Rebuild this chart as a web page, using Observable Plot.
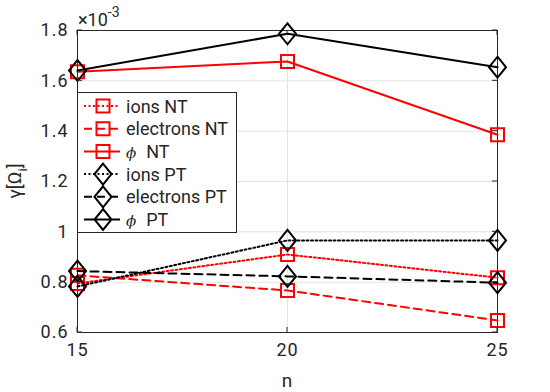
<!DOCTYPE html>
<html><head><meta charset="utf-8">
<script src="https://cdn.jsdelivr.net/npm/d3@7"></script>
<script src="https://cdn.jsdelivr.net/npm/@observablehq/plot@0.6"></script>
<style>body{margin:0;background:#fff} svg{font-family:Roboto,sans-serif}</style>
</head><body><div id="chart"></div>
<script>
// Data (values in units of 1e-3)
const n = [15, 20, 25];
const ionsNT = [0.795, 0.910, 0.818];
const electronsNT = [0.827, 0.767, 0.648];
const phiNT = [1.636, 1.677, 1.386];
const ionsPT = [0.783, 0.966, 0.966];
const electronsPT = [0.844, 0.823, 0.798];
const phiPT = [1.641, 1.787, 1.654];
const seriesNames = ["ions NT", "electrons NT", "NT", "ions PT", "electrons PT", "PT"];
const xTicks = [15, 20, 25];
const yTicks = [0.6, 0.8, 1, 1.2, 1.4, 1.6, 1.8];

const squareSym = {draw(ctx) { const s = 6.5; ctx.rect(-s, -s, 2 * s, 2 * s); }};
const diamondSym = {draw(ctx) { const w = 8.5, h = 10.5; ctx.moveTo(0, -h); ctx.lineTo(w, 0); ctx.lineTo(0, h); ctx.lineTo(-w, 0); ctx.closePath(); }};

const seriesValues = [ionsNT, electronsNT, phiNT, ionsPT, electronsPT, phiPT];
const styles = [
  {color: "#ff0000", dash: "2,2.5", sym: squareSym, phi: false},
  {color: "#ff0000", dash: "8,5", sym: squareSym, phi: false},
  {color: "#ff0000", dash: null, sym: squareSym, phi: true},
  {color: "#000000", dash: "2,2.5", sym: diamondSym, phi: false},
  {color: "#000000", dash: "8,5", sym: diamondSym, phi: false},
  {color: "#000000", dash: null, sym: diamondSym, phi: true}
];
const series = seriesValues.map((vals, i) => ({
  name: seriesNames[i], ...styles[i],
  data: n.map((x, j) => ({n: x, y: vals[j]}))
}));

const marks = [
  Plot.gridY(yTicks, {stroke: "#e3e3e3", strokeOpacity: 1, strokeWidth: 1}),
  Plot.gridX(xTicks, {stroke: "#e3e3e3", strokeOpacity: 1, strokeWidth: 1}),
  Plot.axisX(xTicks, {tickSize: 0, tickPadding: 11, fill: "#262626", label: null, tickFormat: d => String(d)}),
  Plot.axisY(yTicks, {tickSize: 0, tickPadding: 9, fill: "#262626", label: null, tickFormat: d => String(+d.toFixed(1))}),
  Plot.frame({stroke: "#262626", strokeWidth: 1})
];
for (const s of series) {
  marks.push(Plot.line(s.data, {x: "n", y: "y", stroke: s.color, strokeWidth: 2, strokeDasharray: s.dash || undefined}));
  marks.push(Plot.dot(s.data, {x: "n", y: "y", stroke: s.color, strokeWidth: 2, fill: "none", symbol: s.sym}));
}

const plot = Plot.plot({
  width: 550, height: 392,
  marginLeft: 77, marginRight: 53, marginTop: 30, marginBottom: 60,
  x: {domain: [15, 25]},
  y: {domain: [0.6, 1.8]},
  style: {fontFamily: "Roboto, sans-serif", background: "#fff"},
  marks
});
document.getElementById("chart").appendChild(plot);

const svg = d3.select(plot);
svg.selectAll('g[aria-label$="tick label"]').style("font-size", "18px").style("letter-spacing", "1px");
const xs = plot.scale("x"), ys = plot.scale("y");
const X = v => xs.apply(v), Y = v => ys.apply(v);
const L = X(15), R = X(25), T = Y(1.8), B = Y(0.6);
const ax = svg.append("g").attr("stroke", "#262626").attr("stroke-width", 1);
for (const t of yTicks) {
  ax.append("line").attr("x1", L).attr("x2", L + 5).attr("y1", Y(t)).attr("y2", Y(t));
  ax.append("line").attr("x1", R).attr("x2", R - 5).attr("y1", Y(t)).attr("y2", Y(t));
}
for (const t of xTicks) {
  ax.append("line").attr("x1", X(t)).attr("x2", X(t)).attr("y1", B).attr("y2", B - 5);
  ax.append("line").attr("x1", X(t)).attr("x2", X(t)).attr("y1", T).attr("y2", T + 5);
}

// exponent label
const ex = svg.append("text").attr("x", L + 1).attr("y", T - 4).attr("fill", "#262626")
  .style("font-size", "18px").style("text-anchor", "start");
ex.append("tspan").text("×10");
ex.append("tspan").attr("dy", -9).style("font-size", "14px").text("-3");

// axis labels
svg.append("text").attr("x", (L + R) / 2).attr("y", 387).style("text-anchor", "middle")
  .attr("fill", "#262626").style("font-size", "19px").text("n");
const yl = svg.append("text").attr("transform", `translate(21,${(T + B) / 2}) rotate(-90)`)
  .style("text-anchor", "middle").attr("fill", "#262626").style("font-size", "19px");
yl.append("tspan").text("γ[Ω");
yl.append("tspan").attr("dy", 6).style("font-size", "13px").text("i");
yl.append("tspan").attr("dy", -6).text("]");

// legend
const lg = svg.append("g");
const lx = L, ly = 92, lw = 159, lh = 140;
lg.append("rect").attr("x", lx + 0.5).attr("y", ly + 0.5).attr("width", lw).attr("height", lh)
  .attr("fill", "#fff").attr("stroke", "#262626").attr("stroke-width", 1);
series.forEach((s, i) => {
  const cy = ly + 14 + i * 22.7;
  lg.append("line").attr("x1", lx + 7).attr("x2", lx + 43).attr("y1", cy).attr("y2", cy)
    .attr("stroke", s.color).attr("stroke-width", 2).attr("stroke-dasharray", s.dash);
  lg.append("path").attr("d", d3.symbol(s.sym)()).attr("transform", `translate(${lx + 26},${cy})`)
    .attr("fill", "none").attr("stroke", s.color).attr("stroke-width", 2);
  const t = lg.append("text").attr("x", lx + 49).attr("y", cy + 6.5).attr("fill", "#262626")
    .style("font-size", "18px").style("text-anchor", "start");
  if (s.phi) {
    t.append("tspan").style("font-style", "italic").style("font-family", "'DejaVu Serif'").style("font-size", "15px").text("ϕ");
    t.append("tspan").attr("dx", 10).text(s.name);
  } else t.text(s.name);
});
</script></body></html>
